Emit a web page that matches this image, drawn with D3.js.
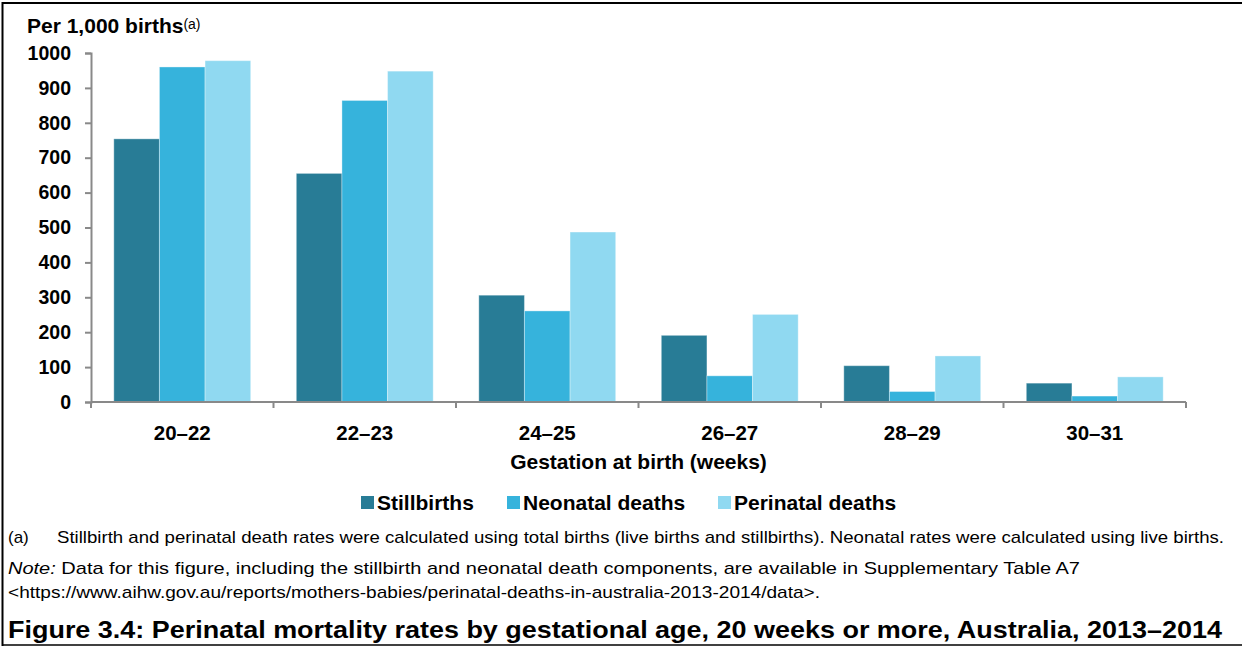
<!DOCTYPE html>
<html>
<head>
<meta charset="utf-8">
<script src="https://cdn.jsdelivr.net/npm/d3@7"></script>
<style>
  body { margin: 0; background: #fff; }
  svg { display: block; font-family: Arial, "Liberation Sans", sans-serif; }
</style>
</head>
<body>
<svg id="chart" width="1242" height="646"></svg>
<script>
// gestation groups and rates per 1,000 births
const categories = ['20–22', '22–23', '24–25', '26–27', '28–29', '30–31'];
const stillbirths = [754, 655, 306, 191, 104, 54];
const neonatal = [960, 864, 261, 75, 30, 17];
const perinatal = [978, 948, 487, 251, 132, 72];
const yTicks = [0, 100, 200, 300, 400, 500, 600, 700, 800, 900, 1000];

const seriesList = [
  { key: 'Stillbirths', values: stillbirths, color: '#287C96' },
  { key: 'Neonatal deaths', values: neonatal, color: '#36B3DC' },
  { key: 'Perinatal deaths', values: perinatal, color: '#90D9F1' }
];

const svg = d3.select('#chart');
const plotLeft = 91, plotRight = 1186, plotTop = 53, plotBottom = 402;

// frame round the figure (no right edge)
svg.append('line').attr('x1', 2).attr('x2', 1242).attr('y1', 3).attr('y2', 3)
  .attr('stroke', '#000').attr('stroke-width', 2);
svg.append('line').attr('x1', 2.5).attr('x2', 2.5).attr('y1', 2).attr('y2', 646)
  .attr('stroke', '#000').attr('stroke-width', 2);
svg.append('line').attr('x1', 2).attr('x2', 1242).attr('y1', 645).attr('y2', 645)
  .attr('stroke', '#000').attr('stroke-width', 1.5);

const x0 = d3.scaleBand().domain(categories).range([plotLeft, plotRight]).paddingInner(0.25).paddingOuter(0.125);
const bandOuter = d3.scaleBand().domain(categories).range([plotLeft, plotRight]);
const x1 = d3.scaleBand().domain(seriesList.map(s => s.key)).range([0, x0.bandwidth()]);
const y = d3.scaleLinear().domain([0, 1000]).range([plotBottom, plotTop]);

// y axis
const yAxis = svg.append('g').attr('transform', `translate(${plotLeft},0)`)
  .call(d3.axisLeft(y).tickValues(yTicks).tickFormat(d3.format('d')).tickSize(6).tickPadding(14));
yAxis.select('.domain').attr('stroke', '#898989').attr('stroke-width', 2);
yAxis.selectAll('.tick line').attr('stroke', '#898989').attr('stroke-width', 2);
yAxis.selectAll('.tick text').attr('fill', '#000').attr('font-size', 19.5)
  .attr('font-weight', 'bold').attr('font-family', 'Arial, "Liberation Sans", sans-serif');

// bars
const groups = svg.append('g').selectAll('g')
  .data(categories)
  .enter().append('g')
  .attr('transform', d => `translate(${x0(d)},0)`);
groups.selectAll('rect')
  .data((d, i) => seriesList.map(s => ({ key: s.key, value: s.values[i], color: s.color })))
  .enter().append('rect')
  .attr('x', d => x1(d.key))
  .attr('y', d => y(d.value))
  .attr('width', x1.bandwidth())
  .attr('height', d => y(0) - y(d.value))
  .attr('fill', d => d.color)
  .attr('stroke', '#ffffff')
  .attr('stroke-opacity', 0.35)
  .attr('stroke-width', 1);

// x axis with ticks at band edges
const xAxis = svg.append('g').attr('transform', `translate(0,${plotBottom})`);
xAxis.append('line').attr('x1', plotLeft).attr('x2', plotRight).attr('y1', 0).attr('y2', 0)
  .attr('stroke', '#898989').attr('stroke-width', 2);
const edges = categories.map(c => bandOuter(c)).concat([plotRight]);
xAxis.selectAll('.xtick').data(edges).enter().append('line')
  .attr('x1', d => d).attr('x2', d => d).attr('y1', 0).attr('y2', 6)
  .attr('stroke', '#898989').attr('stroke-width', 2);
xAxis.selectAll('.xlabel').data(categories).enter().append('text')
  .attr('x', d => bandOuter(d) + bandOuter.bandwidth() / 2)
  .attr('y', 38)
  .attr('text-anchor', 'middle')
  .attr('font-size', 20.5).attr('font-weight', 'bold')
  .text(d => d);

svg.append('text').attr('x', (plotLeft + plotRight) / 2).attr('y', 469)
  .attr('text-anchor', 'middle').attr('font-size', 21).attr('font-weight', 'bold')
  .text('Gestation at birth (weeks)');

// y title
const yTitle = svg.append('text').attr('x', 27).attr('y', 33).attr('font-size', 21).attr('font-weight', 'bold');
yTitle.append('tspan').text('Per 1,000 births');
yTitle.append('tspan').attr('font-size', 14).attr('font-weight', 'normal').attr('dy', -4).text('(a)');

// legend
const legendX = [361, 507, 718];
const legend = svg.append('g').selectAll('g').data(seriesList).enter().append('g')
  .attr('transform', (d, i) => `translate(${legendX[i]},502)`);
legend.append('rect').attr('x', 0).attr('y', -6).attr('width', 13).attr('height', 13).attr('fill', d => d.color);
legend.append('text').attr('x', 16).attr('y', 7.5).attr('font-size', 21).attr('font-weight', 'bold').text(d => d.key);

// notes
svg.append('text').attr('x', 8).attr('y', 543).attr('font-size', 17).text('(a)');
svg.append('text').attr('x', 57).attr('y', 543).attr('font-size', 17)
  .attr('textLength', 1167).attr('lengthAdjust', 'spacingAndGlyphs')
  .text('Stillbirth and perinatal death rates were calculated using total births (live births and stillbirths). Neonatal rates were calculated using live births.');
const note = svg.append('text').attr('x', 8).attr('y', 574).attr('font-size', 17)
  .attr('textLength', 1072).attr('lengthAdjust', 'spacingAndGlyphs');
note.append('tspan').attr('font-style', 'italic').text('Note:');
note.append('tspan').text(' Data for this figure, including the stillbirth and neonatal death components, are available in Supplementary Table A7');
svg.append('text').attr('x', 8).attr('y', 598).attr('font-size', 17)
  .attr('textLength', 812).attr('lengthAdjust', 'spacingAndGlyphs')
  .text('<https://www.aihw.gov.au/reports/mothers-babies/perinatal-deaths-in-australia-2013-2014/data>.');

svg.append('text').attr('x', 8).attr('y', 638).attr('font-size', 24).attr('font-weight', 'bold')
  .attr('textLength', 1214).attr('lengthAdjust', 'spacingAndGlyphs')
  .text('Figure 3.4: Perinatal mortality rates by gestational age, 20 weeks or more, Australia, 2013–2014');
</script>
</body>
</html>
